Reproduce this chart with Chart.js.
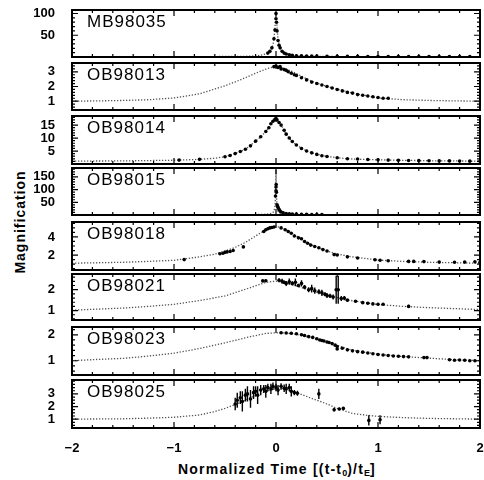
<!DOCTYPE html>
<html>
<head>
<meta charset="utf-8">
<script src="https://cdn.jsdelivr.net/npm/chart.js@4.4.1/dist/chart.umd.min.js"></script>
<style>
  body { margin: 0; background: #fff; width: 484px; height: 480px; position: relative; overflow: hidden; font-family: "Liberation Sans", sans-serif; }
  canvas { position: absolute; left: 0; }
  #ytitle { position: absolute; left: 20px; top: 222px; transform: translate(-50%, -50%) rotate(-90deg); font-weight: bold; font-size: 14px; letter-spacing: 1px; white-space: nowrap; }
  #xtitle { position: absolute; left: 277px; top: 469px; transform: translate(-50%, -50%); font-weight: bold; font-size: 14px; letter-spacing: 1.2px; white-space: nowrap; }
  #xtitle sub { font-size: 9px; vertical-align: -2px; letter-spacing: 0; }
</style>
</head>
<body>
<div id="ytitle">Magnification</div>
<div id="xtitle">Normalized Time [(t-t<sub>0</sub>)/t<sub>E</sub>]</div>
<script>
// names of the events, top to bottom
const eventNames = ["MB98035", "OB98013", "OB98014", "OB98015", "OB98018", "OB98021", "OB98023", "OB98025"];
const xTickLabels = [-2, -1, 0, 1, 2];
// y ranges and labelled ticks of each panel
const yRanges = [[0, 108], [0.4, 3.6], [0, 18.5], [0, 185], [0.35, 5.65], [0.55, 2.75], [0.45, 2.3], [0.3, 4.1]];
const yTickLabels = [[50, 100], [1, 2, 3], [5, 10, 15], [50, 100, 150], [2, 4], [1, 2], [1, 2], [1, 2, 3]];
const yMinorSteps = [10, 0.2, 1, 10, 0.5, 0.2, 0.2, 0.25];

// model curves [t, A]
const mb98035Model = [[-2,1],[-1.5,1],[-1,1.02],[-0.6,1.05],[-0.4,1.3],[-0.3,1.6],[-0.2,2.5],[-0.15,4],[-0.1,7],[-0.07,11],[-0.05,17],[-0.03,28],[-0.02,40],[-0.01,68],[0,104],[0.01,68],[0.02,40],[0.03,28],[0.05,17],[0.07,11],[0.1,7],[0.15,4],[0.2,2.5],[0.3,1.6],[0.4,1.3],[0.6,1.05],[1,1.02],[1.5,1],[2,1]];
const ob98013Model = [[-2,1],[-1.75,1.02],[-1.5,1.05],[-1.25,1.1],[-1,1.22],[-0.75,1.5],[-0.5,2.05],[-0.35,2.45],[-0.25,2.75],[-0.15,3.05],[-0.07,3.25],[0,3.35],[0.07,3.25],[0.15,3.05],[0.25,2.7],[0.35,2.35],[0.5,2.0],[0.75,1.55],[1,1.22],[1.25,1.1],[1.5,1.05],[1.75,1.02],[2,1]];
const ob98014Model = [[-2,1.1],[-1.5,1.2],[-1,1.45],[-0.8,1.7],[-0.6,2.2],[-0.5,2.8],[-0.4,4],[-0.3,5.7],[-0.2,8.8],[-0.15,10.5],[-0.1,12.5],[-0.05,15.5],[0,17.4],[0.05,15],[0.1,11.5],[0.15,9],[0.2,7.3],[0.3,5],[0.4,3.7],[0.5,2.9],[0.7,2.0],[1,1.6],[1.5,1.25],[2,1.1]];
const ob98015Model = [[-2,1],[-1,1],[-0.5,1.1],[-0.2,1.8],[-0.1,3],[-0.05,6],[-0.03,10],[-0.02,15],[-0.01,35],[-0.005,70],[0,178],[0.005,70],[0.01,35],[0.02,15],[0.03,10],[0.05,6],[0.1,3],[0.2,1.8],[0.5,1.1],[1,1],[2,1]];
const ob98018Model = [[-2,1.1],[-1.5,1.2],[-1.25,1.3],[-1,1.42],[-0.75,1.8],[-0.6,2.1],[-0.5,2.45],[-0.4,2.85],[-0.3,3.4],[-0.2,4.1],[-0.1,4.8],[0,5.2],[0.1,4.8],[0.2,4.1],[0.3,3.4],[0.4,2.85],[0.5,2.45],[0.6,2.1],[0.75,1.8],[1,1.45],[1.25,1.3],[1.5,1.2],[2,1.1]];
const ob98021Model = [[-2,1.02],[-1.5,1.12],[-1.25,1.2],[-1,1.3],[-0.75,1.48],[-0.5,1.7],[-0.25,2.1],[-0.1,2.35],[0,2.41],[0.1,2.35],[0.25,2.1],[0.5,1.72],[0.75,1.47],[1,1.29],[1.25,1.2],[1.5,1.14],[2,1.05]];
const ob98023Model = [[-2,1.0],[-1.75,1.05],[-1.5,1.09],[-1.25,1.18],[-1,1.29],[-0.75,1.47],[-0.5,1.69],[-0.25,1.93],[-0.1,2.05],[0,2.08],[0.1,2.07],[0.25,1.98],[0.5,1.72],[0.75,1.4],[1,1.25],[1.25,1.16],[1.5,1.1],[1.75,1.04],[2,1.0]];
const ob98025Model = [[-2,1.0],[-1.5,1.03],[-1.25,1.08],[-1,1.15],[-0.75,1.33],[-0.6,1.6],[-0.5,1.85],[-0.4,2.15],[-0.25,2.7],[-0.1,3.2],[0,3.4],[0.1,3.35],[0.2,3.1],[0.3,2.8],[0.4,2.5],[0.5,2.2],[0.6,1.85],[0.75,1.45],[0.9,1.3],[1,1.22],[1.25,1.12],[1.5,1.06],[1.75,1.03],[2,1.0]];

// measured points [t, A] or [t, A, error]
const mb98035Data = [[-0.08,9],[-0.06,13],[-0.04,21],[-0.02,42],[-0.01,62],[0,88],[0,100],[0.005,80],[0.01,60],[0.02,38],[0.03,27],[0.04,21],[0.06,13],[0.08,9],[0.1,7],[0.13,5],[0.16,4],[0.2,3],[0.25,2.6],[0.3,2.2],[0.35,2],[0.4,1.9],[0.5,1.6],[0.6,1.5],[0.7,1.4],[0.8,1.4],[0.9,1.3],[1,1.3],[1.1,1.2],[1.2,1.2],[1.3,1.2],[1.4,1.2],[1.5,1.1],[1.6,1.1],[1.7,1.1],[1.8,1.1],[1.9,1.1]];
const ob98013Data = [[-0.02,3.35],[0,3.4],[0.02,3.3],[0.04,3.35],[0.05,3.2],[0.08,3.15],[0.1,3.1],[0.12,3.0],[0.15,2.9],[0.18,2.8],[0.2,2.75],[0.25,2.6],[0.3,2.45],[0.35,2.3],[0.4,2.2],[0.45,2.1],[0.5,2.0],[0.55,1.9],[0.6,1.8],[0.65,1.7],[0.7,1.6],[0.75,1.55],[0.8,1.45],[0.85,1.4],[0.9,1.35],[0.95,1.3],[1.0,1.25],[1.05,1.2],[1.1,1.2]];
const ob98014Data = [[-0.95,1.5],[-0.75,1.8],[-0.5,2.8],[-0.45,3.3],[-0.4,4],[-0.35,4.8],[-0.3,5.7],[-0.25,7],[-0.2,8.8],[-0.15,10.5],[-0.1,12.5],[-0.07,14],[-0.05,15.5],[-0.03,16.5],[-0.01,17.2],[0,17.5],[0.01,17],[0.03,16],[0.05,15],[0.08,13],[0.1,11.5],[0.13,10],[0.16,8.7],[0.2,7.3],[0.25,6],[0.3,5],[0.35,4.3],[0.4,3.7],[0.45,3.2],[0.5,2.9],[0.6,2.4],[0.7,2.0],[0.8,1.9],[0.9,1.75],[1.0,1.6],[1.1,1.5],[1.2,1.4],[1.3,1.35],[1.4,1.3],[1.5,1.25],[1.6,1.2],[1.7,1.2],[1.8,1.15],[1.9,1.1],[2.0,1.1]];
const ob98015Data = [[-0.005,75],[0,95],[0,110],[0.002,120],[0.004,90],[0.01,40],[0.015,35],[0.02,30],[0.03,22],[0.04,16],[0.05,12],[0.07,9],[0.1,6],[0.13,5],[0.16,4],[0.2,3.5],[0.25,3],[0.3,2.5],[0.35,2.2],[0.4,2],[0.45,1.8]];
const ob98018Data = [[-0.9,1.5],[-0.55,2.15],[-0.52,2.2],[-0.5,2.3],[-0.48,2.35],[-0.45,2.4],[-0.42,2.5],[-0.32,2.9],[-0.12,4.6],[-0.1,4.8],[-0.08,4.9],[-0.06,5.0],[-0.04,5.05],[-0.02,5.1],[0.05,5.0],[0.09,4.8],[0.12,4.6],[0.15,4.4],[0.18,4.1],[0.22,3.9],[0.25,3.8],[0.28,3.5],[0.31,3.3],[0.34,3.1],[0.38,2.95],[0.42,2.8],[0.46,2.6],[0.5,2.45],[0.57,2.05],[0.6,2.0],[0.7,1.8],[0.8,1.67],[0.97,1.48],[1.02,1.42],[1.1,1.37],[1.3,1.3],[1.35,1.3],[1.45,1.28],[1.6,1.22],[1.75,1.2],[1.85,1.22],[1.95,1.25],[2.0,1.2]];
const ob98021Data = [[-0.13,2.42,0.04],[-0.1,2.43,0.04],[0.03,2.45,0.1],[0.06,2.4,0.12],[0.08,2.35,0.08],[0.1,2.3,0.12],[0.13,2.38,0.15],[0.16,2.3,0.1],[0.19,2.35,0.18],[0.22,2.2,0.08],[0.25,2.3,0.15],[0.28,2.12,0.1],[0.32,2.0,0.12],[0.35,2.05,0.18],[0.38,1.95,0.15],[0.42,1.9,0.12],[0.45,1.85,0.15],[0.48,1.78,0.1],[0.5,1.72,0.12],[0.53,1.7,0.1],[0.56,1.65,0.12],[0.59,2.0,0.67],[0.61,2.0,0.67],[0.64,1.58,0.12],[0.67,1.6,0.1],[0.7,1.5,0.06],[0.78,1.45,0.05],[0.85,1.38,0.04],[0.9,1.35,0.04],[0.95,1.32,0.04],[1.0,1.3,0.05],[1.05,1.3,0.04],[1.3,1.2,0.08]];
const ob98023Data = [[0.05,2.08],[0.1,2.07],[0.15,2.06],[0.2,2.04],[0.25,2.0],[0.28,1.97],[0.32,1.93],[0.36,1.9],[0.4,1.85],[0.43,1.8],[0.45,1.78],[0.47,1.76],[0.5,1.72],[0.52,1.7],[0.55,1.66],[0.58,1.6],[0.6,1.45],[0.6,1.55],[0.65,1.48],[0.7,1.42],[0.75,1.38],[0.8,1.35],[0.85,1.33],[0.9,1.3],[0.95,1.27],[1.0,1.24],[1.05,1.22],[1.1,1.2],[1.15,1.18],[1.2,1.17],[1.25,1.16],[1.3,1.15],[1.45,1.12],[1.48,1.12],[1.7,1.04],[1.75,1.02],[1.8,1.03],[1.85,1.02],[1.9,1.0],[1.95,1.0]];
const ob98025Data = [[-0.4,2.2,0.5],[-0.38,2.5,0.6],[-0.35,2.7,0.5],[-0.33,2.4,0.8],[-0.3,2.9,0.5],[-0.28,3.0,0.6],[-0.25,2.6,0.7],[-0.22,3.1,0.5],[-0.2,3.2,0.4],[-0.18,2.9,0.7],[-0.15,3.3,0.4],[-0.12,3.4,0.3],[-0.1,3.2,0.5],[-0.08,3.5,0.3],[-0.05,3.4,0.4],[-0.03,3.6,0.3],[0,3.5,0.3],[0.02,3.3,0.4],[0.05,3.6,0.25],[0.08,3.45,0.3],[0.1,3.4,0.4],[0.13,3.5,0.3],[0.15,3.2,0.4],[0.18,3.1,0.2],[0.21,3.05,0.2],[0.42,3.0,0.4],[0.57,1.75,0.15],[0.62,1.8,0.1],[0.66,1.85,0.08],[0.91,0.9,0.4],[1.02,0.95,0.35]];

const models = [mb98035Model, ob98013Model, ob98014Model, ob98015Model, ob98018Model, ob98021Model, ob98023Model, ob98025Model];
const measured = [mb98035Data, ob98013Data, ob98014Data, ob98015Data, ob98018Data, ob98021Data, ob98023Data, ob98025Data];

// layout of the stacked panels (px)
const panelTops = [10, 63, 116, 168, 222, 274, 327, 380];
const panelHeights = [47, 47, 48, 47, 48, 46, 48, 48];

Chart.defaults.font.family = "'Liberation Sans', sans-serif";
Chart.defaults.color = "#000";

const toXY = arr => arr.map(p => ({ x: p[0], y: p[1] }));

function makePanel(i) {
  const last = i === eventNames.length - 1;
  const canvas = document.createElement("canvas");
  canvas.width = 484;
  canvas.height = panelHeights[i] + 8 + (last ? 26 : 0);
  canvas.style.top = (panelTops[i] - 4) + "px";
  document.body.appendChild(canvas);

  const framePlugin = {
    id: "frame" + i,
    afterDatasetsDraw(chart) {
      // error bars
      const { ctx, chartArea: a, scales: { x, y } } = chart;
      ctx.save();
      ctx.beginPath();
      ctx.rect(a.left, a.top, a.right - a.left, a.bottom - a.top);
      ctx.clip();
      ctx.strokeStyle = "#000";
      ctx.lineWidth = 1.4;
      ctx.beginPath();
      for (const p of measured[i]) {
        if (p.length < 3) continue;
        const px = x.getPixelForValue(p[0]);
        ctx.moveTo(px, y.getPixelForValue(p[1] - p[2]));
        ctx.lineTo(px, y.getPixelForValue(p[1] + p[2]));
      }
      ctx.stroke();
      ctx.restore();
    },
    afterDraw(chart) {
      const { ctx, chartArea: a, scales: { x, y } } = chart;
      ctx.save();
      ctx.strokeStyle = "#000";
      ctx.lineWidth = 2;
      ctx.strokeRect(a.left, a.top, a.right - a.left, a.bottom - a.top);
      ctx.lineWidth = 1.2;
      ctx.beginPath();
      for (let k = -10; k <= 10; k++) {
        const px = x.getPixelForValue(k / 5);
        const len = k % 5 === 0 ? 6 : 3;
        ctx.moveTo(px, a.bottom); ctx.lineTo(px, a.bottom - len);
        ctx.moveTo(px, a.top); ctx.lineTo(px, a.top + len);
      }
      const step = yMinorSteps[i];
      const [lo, hi] = yRanges[i];
      for (let k = Math.ceil(lo / step - 1e-6); k * step <= hi + 1e-6; k++) {
        const v = k * step;
        const py = y.getPixelForValue(v);
        const major = yTickLabels[i].some(t => Math.abs(t - v) < 1e-6);
        const len = major ? 6 : 3;
        ctx.moveTo(a.left, py); ctx.lineTo(a.left + len, py);
        ctx.moveTo(a.right, py); ctx.lineTo(a.right - len, py);
      }
      ctx.stroke();
      ctx.fillStyle = "#000";
      ctx.font = "17px 'Liberation Sans'";
      ctx.letterSpacing = "1px";
      ctx.textBaseline = "alphabetic";
      ctx.fillText(eventNames[i], a.left + 15, a.top + 17);
      ctx.restore();
    }
  };

  new Chart(canvas, {
    type: "scatter",
    data: {
      datasets: [
        { data: toXY(models[i]), showLine: true, borderColor: "#555", borderDash: [1.3, 1.7], borderWidth: 1.3, pointRadius: 0, order: 2 },
        { data: toXY(measured[i]), showLine: false, pointRadius: 1.8, backgroundColor: "#000", borderWidth: 0, order: 1 }
      ]
    },
    options: {
      responsive: false,
      animation: false,
      events: [],
      layout: { padding: { top: 4, bottom: 4, left: 0, right: 3 } },
      plugins: { legend: { display: false }, tooltip: { enabled: false } },
      scales: {
        x: {
          type: "linear", min: -2, max: 2, display: last,
          grid: { display: false }, border: { display: false },
          afterBuildTicks: s => { s.ticks = xTickLabels.map(v => ({ value: v })); },
          afterFit: s => { s.height = last ? 26 : 0; s.paddingLeft = 0; s.paddingRight = 0; },
          ticks: { font: { size: 13, weight: "bold" }, padding: 5, maxRotation: 0, autoSkip: false,
                   callback: v => String(v).replace("-", "\u2212") }
        },
        y: {
          type: "linear", min: yRanges[i][0], max: yRanges[i][1],
          grid: { display: false }, border: { display: false },
          afterFit: s => { s.width = 72; s.paddingTop = 0; s.paddingBottom = 0; },
          afterBuildTicks: s => { s.ticks = yTickLabels[i].map(v => ({ value: v })); },
          ticks: { font: { size: 13, weight: "bold" }, padding: 9, autoSkip: false }
        }
      }
    },
    plugins: [framePlugin]
  });
}

eventNames.forEach((_, i) => makePanel(i));
</script>
</body>
</html>
